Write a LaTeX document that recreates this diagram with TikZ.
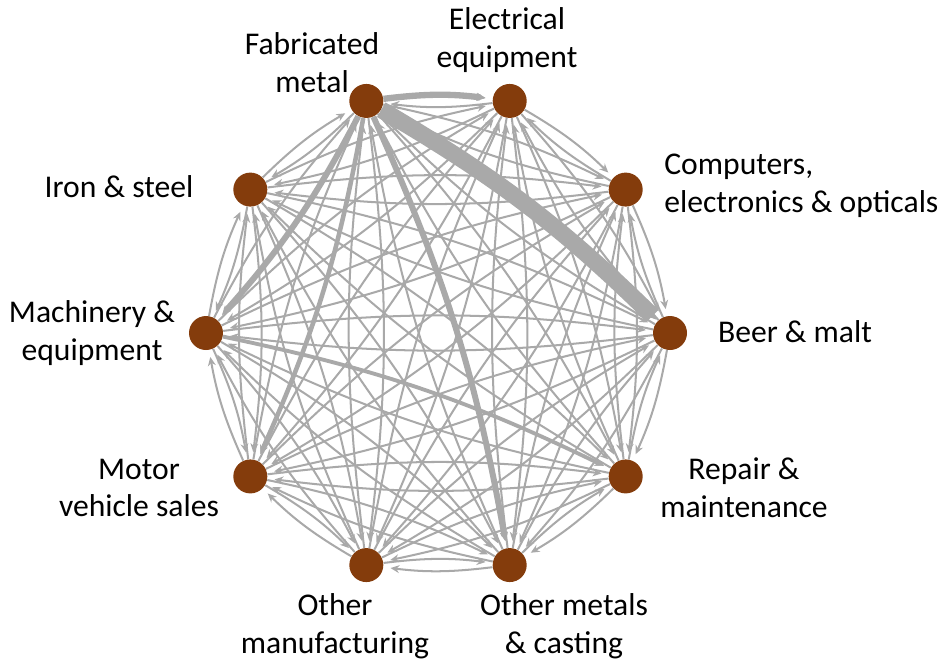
\documentclass[tikz,border=0pt]{standalone}
\usepackage{fontspec}
\setmainfont{Carlito}
\usetikzlibrary{arrows.meta}
\definecolor{edgegray}{HTML}{A9A9A9}
\definecolor{sectorbrown}{HTML}{843C0C}

\begin{document}
\begin{tikzpicture}[
  x=0.02cm, y=0.02cm,
  sector/.style={circle, fill=sectorbrown, minimum size=0.68cm, inner sep=0pt},
  lbl/.style={align=center, inner sep=0pt, font=\fontsize{18}{21.5}\selectfont},
  flow/.style={draw=edgegray, line width=1.15pt, bend left=7,
               -{Stealth[length=5pt, width=4.5pt]}, shorten >=4pt}
]
\useasboundingbox (0,0) rectangle (946,-664);

% sectors on a (slightly stretched) decagon
\foreach \name [count=\i from 0] in {fab,elec,comp,beer,rep,omet,oman,motor,mach,iron}
  \node[sector] (\name) at ({438+232*cos(108-36*\i)},{-333+244*sin(108-36*\i)}) {};

% all flows between sectors
\foreach \a in {fab,elec,comp,beer,rep,omet,oman,motor,mach,iron}{
  \foreach \b in {fab,elec,comp,beer,rep,omet,oman,motor,mach,iron}{
    \ifx\a\b\else\draw[flow] (\a) to (\b);\fi
  }
}

% strong flows
\draw[flow, line width=9.6pt, shorten >=1pt] (fab) to (beer);
\draw[flow, line width=3.6pt] (fab) to (elec);
\draw[flow, line width=3.4pt] (fab) to (mach);
\draw[flow, line width=2.6pt] (fab) to (motor);
\draw[flow, line width=3.4pt] (fab) to (omet);
\draw[flow, line width=2.2pt] (mach) to (rep);

% labels
\node[lbl] (fabtxt) at (312,-63) {Fabricated\\metal};
\node[lbl] (electxt) at (507,-40) {Electrical\\equipment};
\node[lbl, align=left, anchor=west] (comptxt) at (664,-186) {Computers,\\electronics \& opticals};
\node[lbl] (beertxt) at (795,-332) {Beer \& malt};
\node[lbl] (reptxt) at (744,-488) {Repair \&\\maintenance};
\node[lbl] (omettxt) at (564,-626) {Other metals\\\& casting};
\node[lbl] (omantxt) at (335,-626) {Other\\manufacturing};
\node[lbl] (motortxt) at (139,-488) {Motor\\vehicle sales};
\node[lbl] (machtxt) at (92,-333) {Machinery \&\\equipment};
\node[lbl] (irontxt) at (119,-187) {Iron \& steel};
\end{tikzpicture}
\end{document}
